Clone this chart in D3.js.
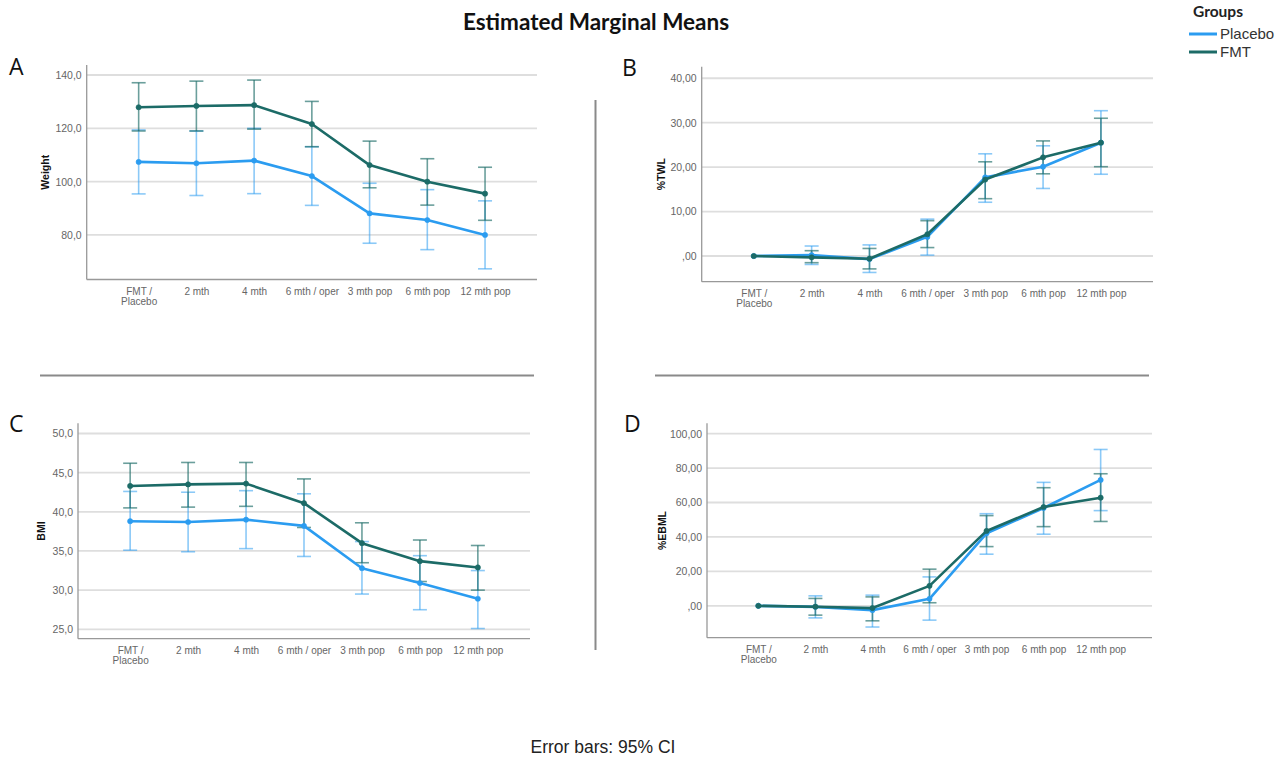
<!DOCTYPE html>
<html>
<head>
<meta charset="utf-8">
<script src="https://cdn.jsdelivr.net/npm/d3@7"></script>
<style>
  html, body { margin: 0; padding: 0; background: #fff; }
  svg { display: block; }
</style>
</head>
<body>
<svg id="chart" width="1287" height="758"></svg>
<script>
// ---------- DATA ----------
const categories = ["FMT / Placebo", "2 mth", "4 mth", "6 mth / oper", "3 mth pop", "6 mth pop", "12 mth pop"];
const groups = ["Placebo", "FMT"];

// Panel A: Weight
const weightPlacebo   = [107.4, 106.9, 107.9, 102.1, 88.1, 85.6, 80.0];
const weightPlaceboLo = [95.4, 94.8, 95.5, 91.1, 76.9, 74.5, 67.3];
const weightPlaceboHi = [119.4, 119.0, 120.0, 113.1, 99.4, 97.0, 92.8];
const weightFMT       = [127.9, 128.4, 128.7, 121.6, 106.2, 100.0, 95.5];
const weightFMTLo     = [119.0, 119.0, 119.7, 113.1, 97.7, 91.2, 85.5];
const weightFMTHi     = [137.1, 137.7, 138.1, 130.1, 115.2, 108.6, 105.4];
const weightTicks      = [80, 100, 120, 140];
const weightTickLabels = ["80,0", "100,0", "120,0", "140,0"];

// Panel B: %TWL
const twlPlacebo   = [0.0, 0.2, -0.7, 4.3, 17.7, 20.1, 25.5];
const twlPlaceboLo = [0.0, -1.9, -3.7, 0.2, 12.1, 15.2, 18.4];
const twlPlaceboHi = [0.0, 2.25, 2.5, 8.3, 23.0, 24.8, 32.7];
const twlFMT       = [0.0, -0.3, -0.6, 4.9, 17.2, 22.2, 25.5];
const twlFMTLo     = [0.0, -1.5, -2.9, 1.9, 12.9, 18.5, 20.1];
const twlFMTHi     = [0.0, 1.2, 1.7, 7.95, 21.2, 25.9, 31.0];
const twlTicks      = [0, 10, 20, 30, 40];
const twlTickLabels = [",00", "10,00", "20,00", "30,00", "40,00"];

// Panel C: BMI
const bmiPlacebo   = [38.8, 38.7, 39.0, 38.2, 32.8, 30.9, 28.9];
const bmiPlaceboLo = [35.1, 34.9, 35.3, 34.3, 29.5, 27.5, 25.1];
const bmiPlaceboHi = [42.6, 42.5, 42.7, 42.3, 36.2, 34.4, 32.5];
const bmiFMT       = [43.3, 43.5, 43.6, 41.1, 36.0, 33.7, 32.9];
const bmiFMTLo     = [40.5, 40.6, 40.7, 38.0, 33.5, 31.1, 30.0];
const bmiFMTHi     = [46.2, 46.3, 46.3, 44.2, 38.6, 36.4, 35.7];
const bmiTicks      = [25, 30, 35, 40, 45, 50];
const bmiTickLabels = ["25,0", "30,0", "35,0", "40,0", "45,0", "50,0"];

// Panel D: %EBML
const ebmlPlacebo   = [0.0, -0.6, -2.5, 4.1, 42.1, 56.8, 73.1];
const ebmlPlaceboLo = [0.0, -7.0, -12.3, -8.3, 30.0, 41.6, 55.3];
const ebmlPlaceboHi = [0.0, 5.8, 6.2, 16.8, 53.5, 71.7, 90.8];
const ebmlFMT       = [0.0, -0.5, -1.3, 11.6, 43.5, 57.4, 62.8];
const ebmlFMTLo     = [0.0, -5.4, -8.7, 1.8, 34.4, 46.0, 49.0];
const ebmlFMTHi     = [0.0, 4.3, 5.2, 21.3, 52.4, 68.6, 76.7];
const ebmlTicks      = [0, 20, 40, 60, 80, 100];
const ebmlTickLabels = [",00", "20,00", "40,00", "60,00", "80,00", "100,00"];

// ---------- STYLE ----------
const colPlacebo = "#2b9cf0";
const colFMT = "#1c6b67";
const colPlaceboErr = "rgba(43,156,240,0.55)";
const colFMTErr = "rgba(28,107,103,0.65)";

const svg = d3.select("#chart");

// Title
svg.append("text").attr("x", 596).attr("y", 30)
  .attr("text-anchor", "middle")
  .attr("font-family", "Lato, 'Open Sans', sans-serif")
  .attr("font-weight", "bold").attr("font-size", 22.5)
  .attr("fill", "#111").text("Estimated Marginal Means");

// Legend
svg.append("text").attr("x", 1193).attr("y", 17)
  .attr("font-family", "Lato, 'Open Sans', sans-serif")
  .attr("font-weight", "bold").attr("font-size", 15.5).attr("fill", "#222").text("Groups");
const legendColors = {Placebo: colPlacebo, FMT: colFMT};
groups.forEach((g, i) => {
  const y = 34 + i * 18;
  svg.append("line").attr("x1", 1189).attr("x2", 1217).attr("y1", y).attr("y2", y)
    .attr("stroke", legendColors[g]).attr("stroke-width", 3);
  svg.append("text").attr("x", 1220).attr("y", y + 5)
    .attr("font-family", "Arial, 'Liberation Sans', sans-serif")
    .attr("font-size", 15).attr("fill", "#333").text(g);
});

// Separators
const sep = svg.append("g").attr("stroke", "#8a8a8a").attr("stroke-width", 2);
sep.append("line").attr("x1", 40).attr("x2", 534).attr("y1", 375.5).attr("y2", 375.5);
sep.append("line").attr("x1", 655).attr("x2", 1149).attr("y1", 375.5).attr("y2", 375.5);
sep.append("line").attr("x1", 595.5).attr("x2", 595.5).attr("y1", 100).attr("y2", 650);

// Footer
svg.append("text").attr("x", 603).attr("y", 753)
  .attr("text-anchor", "middle")
  .attr("font-family", "Arial, 'Liberation Sans', sans-serif")
  .attr("font-size", 17.5).attr("fill", "#222").text("Error bars: 95% CI");

function panel(cfg) {
  const g = svg.append("g");
  // panel letter
  g.append("text").attr("x", cfg.letterX).attr("y", cfg.letterY)
    .attr("font-family", "'Open Sans', sans-serif").attr("font-size", 23)
    .attr("fill", "#111").text(cfg.letter);

  const x = d3.scalePoint().domain(categories).range([cfg.left, cfg.right]).padding(0.9);
  const y = d3.scaleLinear().domain(cfg.domain).range([cfg.bottom, cfg.top]);

  // gridlines
  g.append("g").selectAll("line").data(cfg.ticks).join("line")
    .attr("x1", cfg.left).attr("x2", cfg.right)
    .attr("y1", d => y(d)).attr("y2", d => y(d))
    .attr("stroke", "#dedede").attr("stroke-width", 1.8);

  // y axis via d3
  const yAxis = d3.axisLeft(y).tickValues(cfg.ticks)
    .tickFormat((d, i) => cfg.tickLabels[i]).tickSize(0).tickPadding(5);
  const ya = g.append("g").attr("transform", `translate(${cfg.left},0)`).call(yAxis);
  ya.select(".domain").remove();
  ya.selectAll("text").attr("font-family", "Arial, 'Liberation Sans', sans-serif")
    .attr("font-size", 10.5).attr("fill", "#666");

  // x axis via d3
  const xAxis = d3.axisBottom(x).tickSize(0).tickPadding(0);
  const xa = g.append("g").attr("transform", `translate(0,${cfg.bottom})`).call(xAxis);
  xa.select(".domain").remove();
  xa.selectAll("text").each(function(d) {
    const t = d3.select(this);
    t.text(null).attr("font-family", "Arial, 'Liberation Sans', sans-serif")
      .attr("font-size", 10).attr("fill", "#666").attr("dy", null).attr("y", 0);
    const parts = d === "FMT / Placebo" ? ["FMT /", "Placebo"] : [d];
    parts.forEach((p, i) => t.append("tspan").attr("x", 0).attr("y", 15 + i * 10.5).text(p));
  });

  // axis lines
  g.append("line").attr("x1", cfg.left).attr("x2", cfg.left).attr("y1", cfg.top).attr("y2", cfg.bottom)
    .attr("stroke", "#999").attr("stroke-width", 1.3);
  g.append("line").attr("x1", cfg.left).attr("x2", cfg.right).attr("y1", cfg.bottom).attr("y2", cfg.bottom)
    .attr("stroke", "#999").attr("stroke-width", 1.3);

  // y label
  g.append("text")
    .attr("transform", `translate(${cfg.labelX},${(cfg.top + cfg.bottom) / 2}) rotate(-90)`)
    .attr("text-anchor", "middle")
    .attr("font-family", "Arial, 'Liberation Sans', sans-serif")
    .attr("font-weight", "bold").attr("font-size", 10.5).attr("fill", "#111")
    .text(cfg.yLabel);

  const series = [
    {mean: cfg.placebo, lo: cfg.placeboLo, hi: cfg.placeboHi, col: colPlacebo, err: colPlaceboErr},
    {mean: cfg.fmt, lo: cfg.fmtLo, hi: cfg.fmtHi, col: colFMT, err: colFMTErr}
  ];
  const cap = 7;
  // error bars
  series.forEach(s => {
    const eb = g.append("g").attr("stroke", s.err).attr("stroke-width", 1.6).attr("fill", "none");
    categories.forEach((c, i) => {
      if (s.hi[i] === s.lo[i]) return;
      const cx = x(c);
      eb.append("line").attr("x1", cx).attr("x2", cx).attr("y1", y(s.lo[i])).attr("y2", y(s.hi[i]));
      eb.append("line").attr("x1", cx - cap).attr("x2", cx + cap).attr("y1", y(s.lo[i])).attr("y2", y(s.lo[i]));
      eb.append("line").attr("x1", cx - cap).attr("x2", cx + cap).attr("y1", y(s.hi[i])).attr("y2", y(s.hi[i]));
    });
  });
  // lines & markers
  series.forEach(s => {
    const line = d3.line().x((d, i) => x(categories[i])).y(d => y(d));
    g.append("path").datum(s.mean).attr("d", line).attr("fill", "none")
      .attr("stroke", s.col).attr("stroke-width", 2.6).attr("stroke-linejoin", "round");
    g.append("g").selectAll("circle").data(s.mean).join("circle")
      .attr("cx", (d, i) => x(categories[i])).attr("cy", d => y(d)).attr("r", 2.6)
      .attr("fill", s.col).attr("stroke", s.err).attr("stroke-width", 1);
  });
}

panel({letter: "A", letterX: 9, letterY: 75, left: 86.7, right: 537, top: 65, bottom: 279.5,
  domain: [63.3, 143.75], ticks: weightTicks, tickLabels: weightTickLabels, yLabel: "Weight", labelX: 49,
  placebo: weightPlacebo, placeboLo: weightPlaceboLo, placeboHi: weightPlaceboHi,
  fmt: weightFMT, fmtLo: weightFMTLo, fmtHi: weightFMTHi});

panel({letter: "B", letterX: 622, letterY: 76, left: 701.7, right: 1153, top: 66.7, bottom: 281.7,
  domain: [-5.78, 42.6], ticks: twlTicks, tickLabels: twlTickLabels, yLabel: "%TWL", labelX: 665,
  placebo: twlPlacebo, placeboLo: twlPlaceboLo, placeboHi: twlPlaceboHi,
  fmt: twlFMT, fmtLo: twlFMTLo, fmtHi: twlFMTHi});

panel({letter: "C", letterX: 9, letterY: 432, left: 78, right: 530, top: 423.3, bottom: 638.7,
  domain: [23.8, 51.3], ticks: bmiTicks, tickLabels: bmiTickLabels, yLabel: "BMI", labelX: 45,
  placebo: bmiPlacebo, placeboLo: bmiPlaceboLo, placeboHi: bmiPlaceboHi,
  fmt: bmiFMT, fmtLo: bmiFMTLo, fmtHi: bmiFMTHi});

panel({letter: "D", letterX: 624, letterY: 432, left: 707, right: 1152, top: 423.3, bottom: 637.7,
  domain: [-18.5, 106], ticks: ebmlTicks, tickLabels: ebmlTickLabels, yLabel: "%EBML", labelX: 666,
  placebo: ebmlPlacebo, placeboLo: ebmlPlaceboLo, placeboHi: ebmlPlaceboHi,
  fmt: ebmlFMT, fmtLo: ebmlFMTLo, fmtHi: ebmlFMTHi});
</script>
</body>
</html>
